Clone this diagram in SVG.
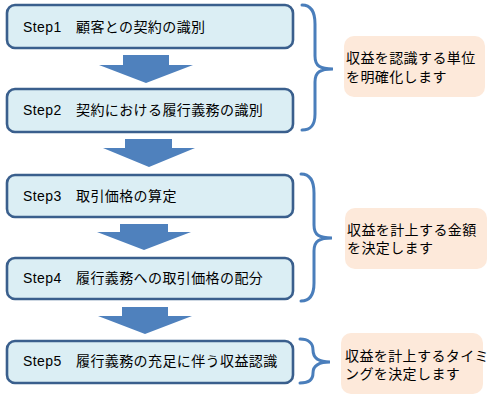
<svg xmlns="http://www.w3.org/2000/svg" width="500" height="402" viewBox="0 0 500 402">
<style>
.box{fill:#DBEEF4;stroke:#3A5F8D;stroke-width:2.6}
.arrow{fill:#4F81BD}
.brace{fill:none;stroke:#4A7EBB;stroke-width:3;stroke-linecap:round}
.note{fill:#FDE9DA}
text{font-family:"Liberation Sans","Noto Sans CJK JP",sans-serif;font-size:14px;fill:#000;letter-spacing:0.4px}
</style>
<rect width="500" height="402" fill="#FFFFFF"/>
<g id="connectors">
<polygon class="arrow" points="123,55 169,55 169,65 193,65 146,83 99,65 123,65"/>
<polygon class="arrow" points="125,139 172,139 172,148 195,148 149,167 103,148 125,148"/>
<polygon class="arrow" points="120,224 168,224 168,232 191,232 144,250 97,232 120,232"/>
<polygon class="arrow" points="122,307 168,307 168,316 192,316 145,334 98,316 122,316"/>
<path class="brace" d="M302,5 C311,5 315,12 315,24 L315,56 C315,66 320,69 333,69 C320,69 315,72 315,82 L315,114 C315,125 311,130 302,130"/>
<path class="brace" d="M301,174 C310,174 314,181 314,193 L314,225 C314,235 319,238 332,238 C319,238 314,241 314,251 L314,283 C314,294 310,301 301,301"/>
<path class="brace" d="M300,339 C308,339 313,343 313,350 C313,358 318,362 330,362 C318,362 313,366 313,373 C313,380 308,383 300,383"/>
</g>
<g id="step1">
<rect class="box" x="7" y="5" width="286" height="43" rx="8"/>
<text x="23" y="32">Step1　顧客との契約の識別</text>
</g>
<g id="step2">
<rect class="box" x="7" y="89" width="286" height="43" rx="8"/>
<text x="23" y="115">Step2　契約における履行義務の識別</text>
</g>
<g id="step3">
<rect class="box" x="7" y="175" width="286" height="42" rx="8"/>
<text x="23" y="201">Step3　取引価格の算定</text>
</g>
<g id="step4">
<rect class="box" x="7" y="258" width="286" height="41" rx="8"/>
<text x="23" y="283">Step4　履行義務への取引価格の配分</text>
</g>
<g id="step5">
<rect class="box" x="7" y="341" width="286" height="42" rx="8"/>
<text x="23" y="366">Step5　履行義務の充足に伴う収益認識</text>
</g>
<g id="note1">
<rect class="note" x="344" y="36" width="141" height="61" rx="10"/>
<text x="346" y="63">収益を認識する単位</text>
<text x="346" y="82">を明確化します</text>
</g>
<g id="note2">
<rect class="note" x="345" y="208" width="142" height="61" rx="10"/>
<text x="347" y="235">収益を計上する金額</text>
<text x="347" y="253">を決定します</text>
</g>
<g id="note3">
<rect class="note" x="341" y="333" width="142" height="61" rx="10"/>
<text x="345" y="361">収益を計上するタイミ</text>
<text x="345" y="379">ングを決定します</text>
</g>
</svg>
